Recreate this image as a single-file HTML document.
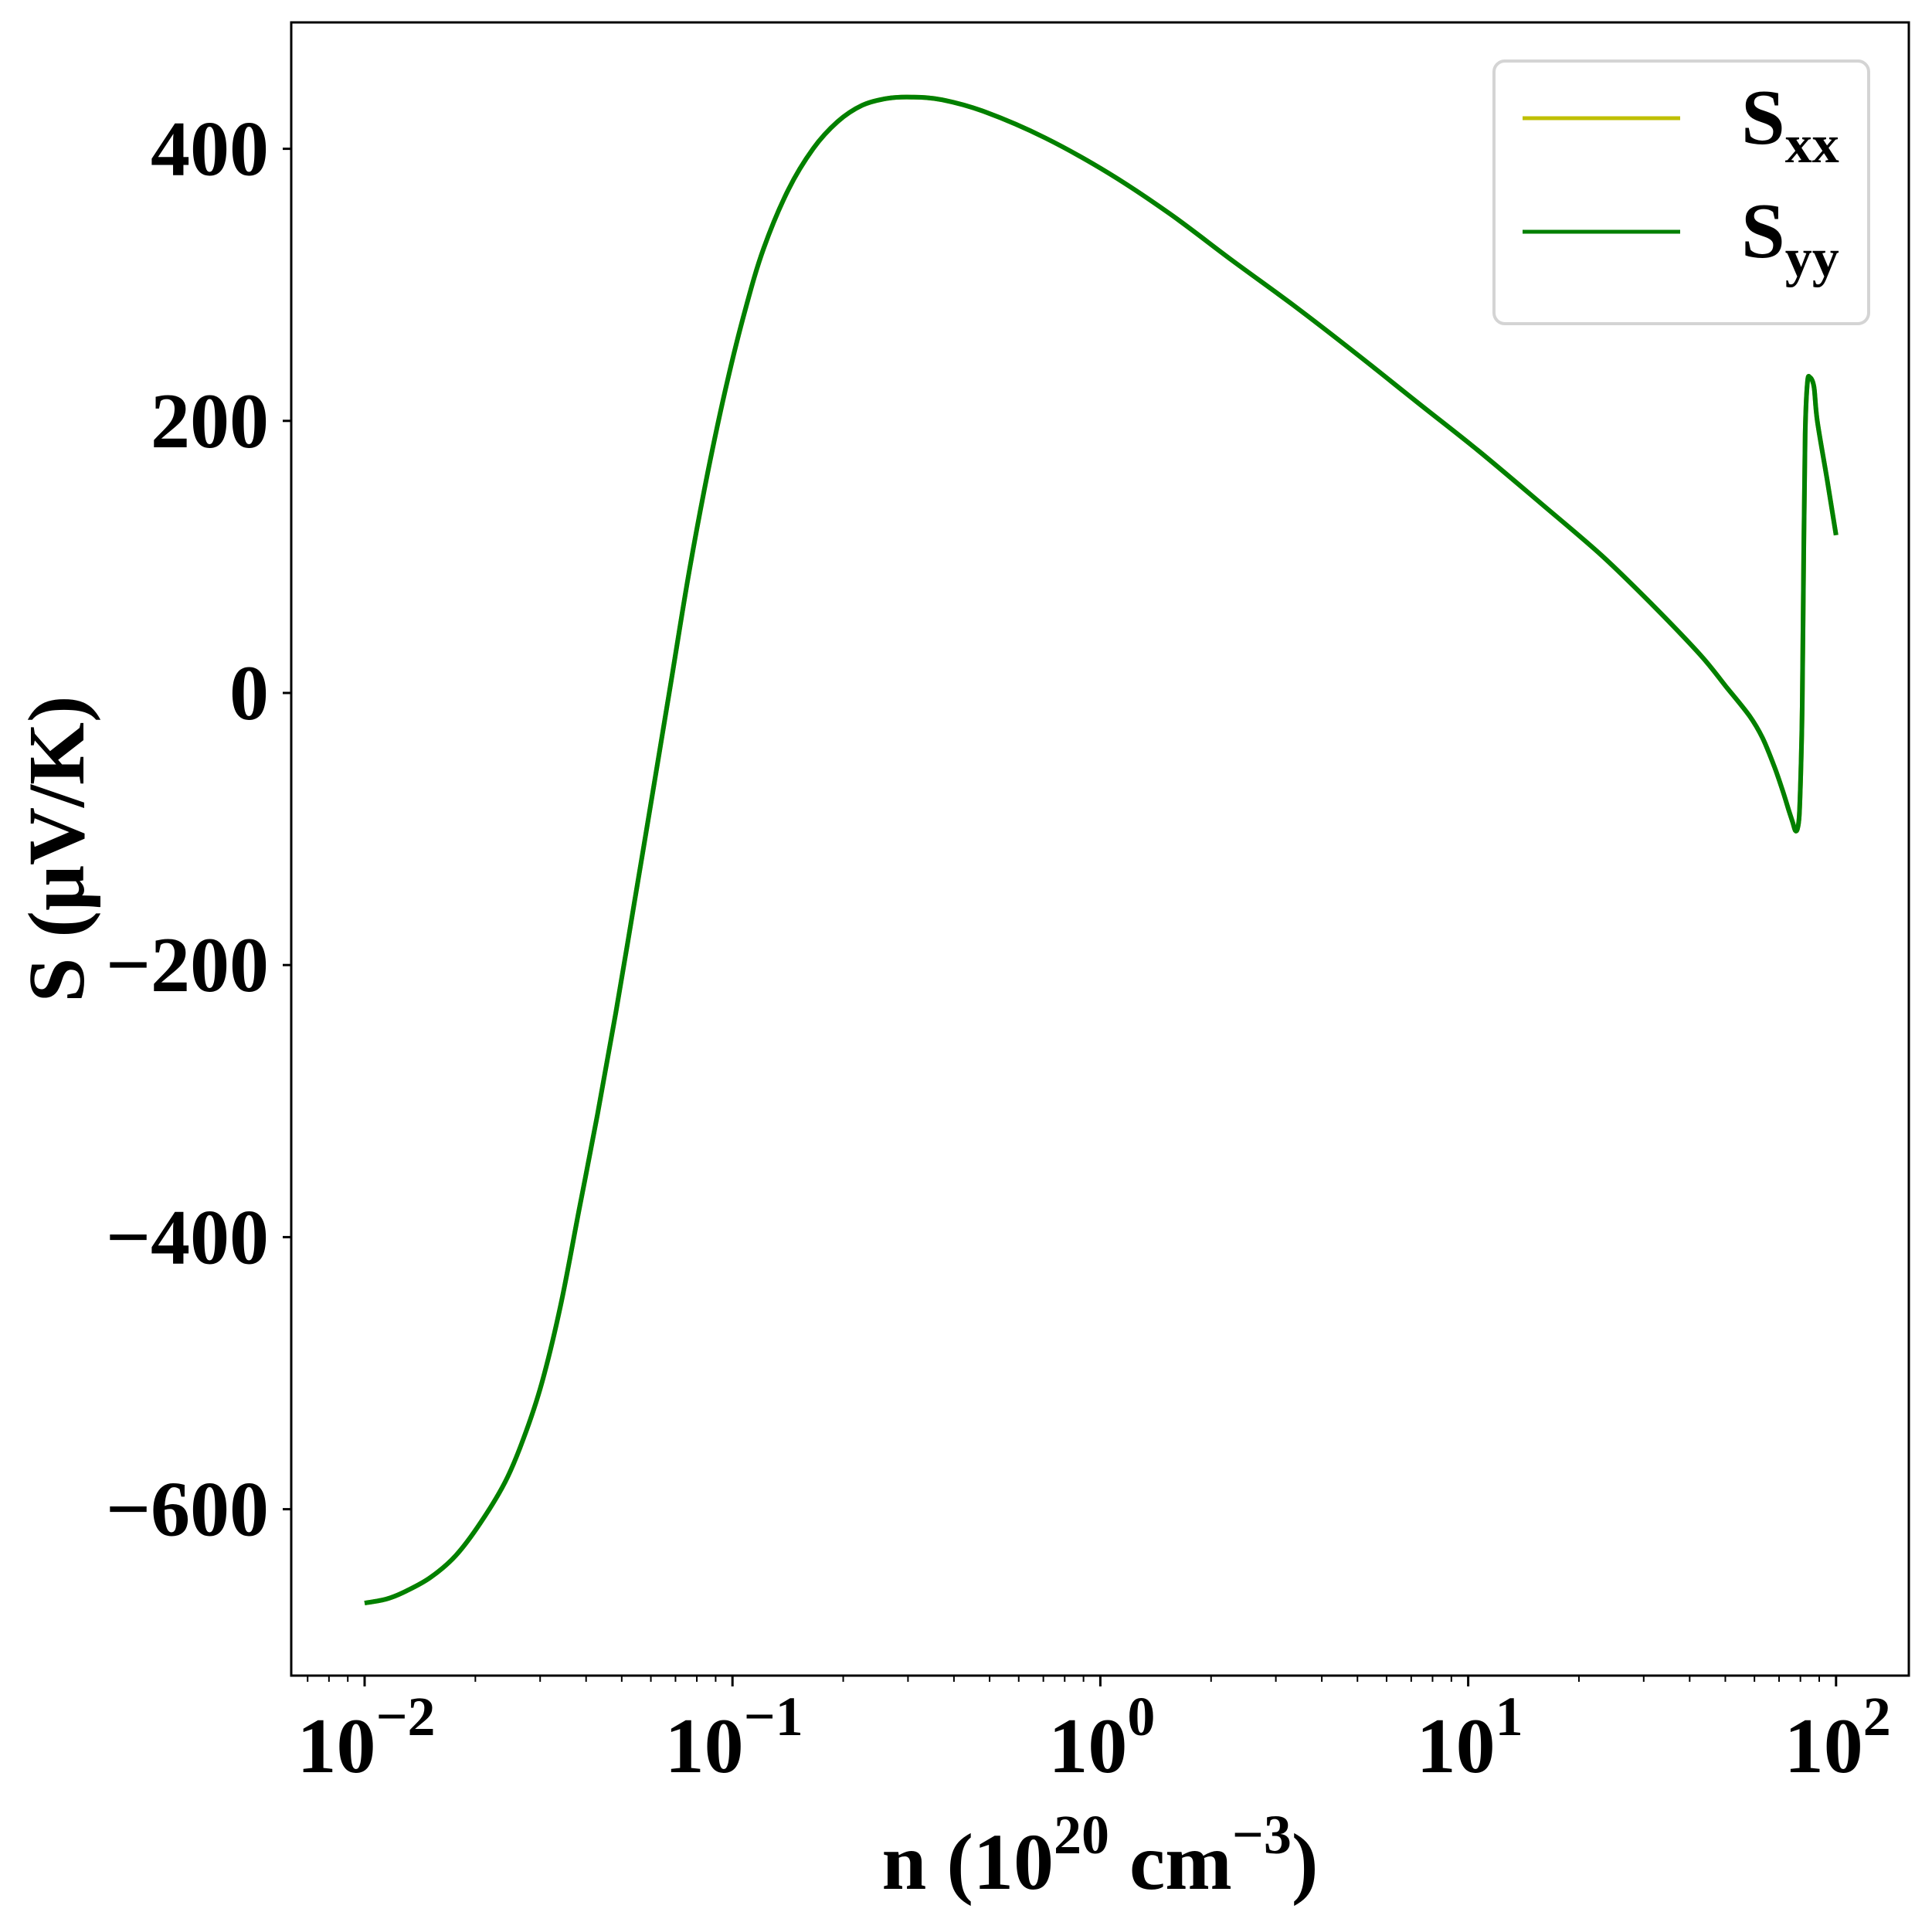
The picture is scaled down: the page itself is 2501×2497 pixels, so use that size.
<!DOCTYPE html>
<html><head><meta charset="utf-8"><style>
html,body{margin:0;padding:0;background:#fff}
svg text{font-family:"Liberation Serif",serif;font-weight:bold;fill:#000}
</style></head><body>
<svg id="chart" width="2501" height="2492" viewBox="0 0 2501 2492" xmlns="http://www.w3.org/2000/svg">
<rect x="0" y="0" width="2501" height="2492" fill="#fff"/>
<g id="ticks"></g>
<g id="plot"></g>
<rect x="377" y="29" width="2094" height="2140" fill="none" stroke="#000" stroke-width="3"/>
<text transform="translate(108,1099) rotate(-90)" text-anchor="middle" font-size="104">S (μV/K)</text>
<text x="1424" y="2445" text-anchor="middle" font-size="104">n (10<tspan dy="-46" font-size="72">20</tspan><tspan dy="46"> cm</tspan><tspan dy="-46" font-size="72">−3</tspan><tspan dy="46">)</tspan></text>
<g>
<rect x="1934" y="79" width="485" height="340" rx="14" fill="#fff" stroke="#d4d4d4" stroke-width="4"/>
<line x1="1971" y1="153" x2="2175" y2="153" stroke="#bfbf00" stroke-width="5"/>
<text x="2254" y="186" font-size="102">S<tspan dy="24" font-size="70">xx</tspan></text>
<line x1="1971" y1="300" x2="2175" y2="300" stroke="#008000" stroke-width="5"/>
<text x="2254" y="333" font-size="102">S<tspan dy="24" font-size="70">yy</tspan></text>
</g>
</svg>
<script>
const logN = [-2,-1.94,-1.886,-1.82,-1.752,-1.685,-1.618,-1.568,-1.518,-1.467,-1.417,-1.367,-1.317,-1.266,-1.216,-1.166,-1.116,-1.065,-1.015,-0.965,-0.915,-0.848,-0.781,-0.714,-0.647,-0.58,-0.513,-0.43,-0.312,-0.15,0.023,0.19,0.358,0.525,0.693,0.86,1.028,1.195,1.363,1.5,1.631,1.7,1.765,1.8,1.832,1.855,1.870,1.882,1.889,1.895,1.900,1.904,1.908,1.912,1.916,1.922,1.929,1.940,1.949,1.975,2.0];
const sxx = [-669,-666,-660,-650,-634,-610,-580,-548,-507,-450,-380,-310,-235,-153,-72,10,92,165,228,282,327,370,400,420,432,437,438,436,427,408,382,352,318,285,250,214,178,140,101,65,28,5,-17,-33,-54,-72,-85,-95,-101,-100,-90,-60,-10,100,190,228,232,225,200,158,116];
const syy = sxx.slice();
const yTicks = [-600,-400,-200,0,200,400];
const xDecades = [-2,-1,0,1,2];

const NS='http://www.w3.org/2000/svg';
const X0=472,XD=476.2,Y0=897,YS=352.2/200;
function xs(l){return X0+(l+2)*XD;}
function ys(v){return Y0-v*YS;}
const tg=document.getElementById('ticks');
const pg=document.getElementById('plot');
function mk(t,a){const e=document.createElementNS(NS,t);for(const k in a)e.setAttribute(k,a[k]);return e;}

yTicks.forEach(v=>{
  const y=ys(v);
  const l=mk('line',{x1:366,y1:y,x2:377,y2:y,stroke:'#000','stroke-width':3});
  
  
  tg.appendChild(l);
  const t=mk('text',{x:348,y:y+34,'text-anchor':'end','font-size':102});
  
  
  t.textContent=(v<0?'−':'')+Math.abs(v);
  tg.appendChild(t);
});
for(let d=-3;d<=2;d++){
  for(let m=1;m<10;m++){
    const l10=d+Math.log10(m);
    const x=xs(l10);
    if(x<377||x>2471)continue;
    const major=m===1;
    const l=mk('line',{x1:x,y1:2169,x2:x,y2:2169+(major?14:8),stroke:'#000','stroke-width':major?3:2});
    
    
    tg.appendChild(l);
  }
}
xDecades.forEach(d=>{
  const x=xs(d);
  const t=mk('text',{x:x+2,y:2294,'text-anchor':'middle','font-size':102});
  
  
  t.innerHTML='10<tspan dy="-48" font-size="72">'+(d<0?'−':'')+Math.abs(d)+'</tspan>';
  tg.appendChild(t);
});
function path(vals,color,name){
  const P=vals.map((v,i)=>[xs(logN[i]),ys(v)]);
  let d='M'+P[0][0].toFixed(1)+','+P[0][1].toFixed(1);
  for(let i=0;i<P.length-1;i++){
    const p0=P[Math.max(0,i-1)],p1=P[i],p2=P[i+1],p3=P[Math.min(P.length-1,i+2)];
    const c1=[p1[0]+(p2[0]-p0[0])/6,p1[1]+(p2[1]-p0[1])/6];
    const c2=[p2[0]-(p3[0]-p1[0])/6,p2[1]-(p3[1]-p1[1])/6];
    d+=' C'+c1[0].toFixed(1)+','+c1[1].toFixed(1)+' '+c2[0].toFixed(1)+','+c2[1].toFixed(1)+' '+p2[0].toFixed(1)+','+p2[1].toFixed(1);
  }
  const p=mk('path',{d:d,fill:'none',stroke:color,'stroke-width':6,'stroke-linejoin':'round'});
  
  
  pg.appendChild(p);
}
path(sxx,'#bfbf00','series-sxx');
path(syy,'#008000','series-syy');
</script>
</body></html>
